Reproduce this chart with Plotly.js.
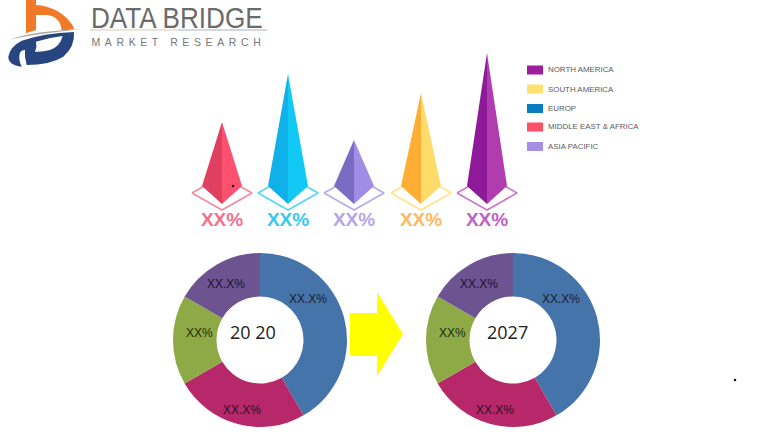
<!DOCTYPE html>
<html><head><meta charset="utf-8">
<script src="https://cdn.plot.ly/plotly-3.0.1.min.js"></script>
<style>html,body{margin:0;padding:0;background:#fff}#c{width:780px;height:440px}
.logoTitle{transform-box:fill-box;transform-origin:0 50%;transform:scaleX(.87)}
.logoSub{letter-spacing:4.6px}
</style>
</head><body><div id="c"></div>
<script>
const regions=['MIDDLE EAST & AFRICA','EUROP','ASIA PACIFIC','SOUTH AMERICA','NORTH AMERICA'];
const pyramidHeights=[82,130,64,111,151];
const pyramidLabels=['XX%','XX%','XX%','XX%','XX%'];
const leftFace=['#e0405f','#10b0e8','#7a6cc4','#ffae35','#8e1a9a'];
const rightFace=['#ff5070','#12c8f5','#a08ee6','#ffdc6a','#b03cb0'];
const labelColors=['#f4708a','#35c8f0','#b4a4ea','#ffb860','#c060c8'];
const diamondColors=['#f58a9e','#55d8f5','#b8a8ec','#ffe48a','#c878d0'];

const legendNames=['NORTH AMERICA','SOUTH AMERICA','EUROP','MIDDLE EAST & AFRICA','ASIA PACIFIC'];
const legendColors=['#9c1fa0','#ffe070','#0a7cc0','#ff5068','#a58ee6'];

const donutLabels=['Segment A','Segment B','Segment C','Segment D'];
const donut2020=[41.67,25,16.67,16.66];
const donut2027=[41.67,25,16.67,16.66];
const donutColors=['#4574ab','#b6286a','#8eaa47','#6e5391'];
const donutTexts=['XX.X%','XX.X%','XX%','XX.X%'];

const W=780,H=440,baseY=204;
const cx=[222,288,354,421,487];
const traces=[];
regions.forEach((r,i)=>{
  const c=cx[i],h=pyramidHeights[i];
  traces.push({type:'scatter',mode:'lines',x:[c-30,c,c+30,c,c-30],y:[11,28,11,-6,11],fill:'none',
    line:{color:diamondColors[i],width:1.6},hoverinfo:'skip',showlegend:false});
  traces.push({type:'scatter',mode:'lines',x:[c,c-20,c,c],y:[h,18,0,h],fill:'toself',fillcolor:leftFace[i],
    line:{width:0},name:r,hoverinfo:'skip',showlegend:false});
  traces.push({type:'scatter',mode:'lines',x:[c,c+20,c,c],y:[h,18,0,h],fill:'toself',fillcolor:rightFace[i],
    line:{width:0},hoverinfo:'skip',showlegend:false});
});
traces.push({type:'scatter',mode:'text',x:cx,y:cx.map(()=>-17),text:pyramidLabels,
  textfont:{family:'Liberation Sans',size:19,weight:700,color:labelColors},textposition:'middle center',hoverinfo:'skip',showlegend:false});
traces.push({type:'scatter',mode:'markers',x:[233,735],y:[18,-176],marker:{size:2.5,color:'#111'},hoverinfo:'skip',showlegend:false});

function donut(vals,cxp,cyp,r){
  return {type:'pie',values:vals,labels:donutLabels,sort:false,direction:'clockwise',rotation:0,hole:0.5,
    marker:{colors:donutColors,line:{width:0}},textinfo:'none',hoverinfo:'skip',showlegend:false,
    domain:{x:[(cxp-r)/W,(cxp+r)/W],y:[1-(cyp+r)/H,1-(cyp-r)/H]}};
}
traces.push(donut(donut2020,260,340,87));
traces.push(donut(donut2027,513,340,87));

const ann=[];
const t=(x,y,text,size,color,family,anchor)=>ann.push({xref:'paper',yref:'paper',x:x/W,y:1-y/H,text,showarrow:false,
  xanchor:anchor||'center',yanchor:'middle',font:{size,color,family:family||'Liberation Sans'},borderpad:0,borderwidth:0});
[0,253].forEach(dx=>{
  t(308+dx,299,donutTexts[0],12,'#1c1c30');
  t(242+dx,410,donutTexts[1],12,'#2a1025');
  t(199+dx,333,donutTexts[2],12,'#1c2a10');
  t(226+dx,284,donutTexts[3],12,'#1c1030');
});
t(253,332,'20 20',18,'#222','Open Sans');
t(507,332,'2027',18,'#222','Open Sans');
const legendY=[70,89,108.5,127,146.5];
legendNames.forEach((n,i)=>t(548,legendY[i],n,7.9,'#5a5a5a','Liberation Sans','left'));
const titleIdx=ann.length;
t(91,17.5,'DATA BRIDGE',30,'#6a6a6a','Liberation Sans','left');
const subIdx=ann.length;
t(125.5,42,'MARKET RESEARCH',10.5,'#777','Liberation Sans','left');

const shapes=[];
const rect=(x0,y0,x1,y1,c)=>shapes.push({type:'rect',xref:'paper',yref:'paper',x0:x0/W,x1:x1/W,y0:1-y0/H,y1:1-y1/H,fillcolor:c,line:{width:0},layer:'above'});
legendColors.forEach((c,i)=>{const y=legendY[i];rect(527,y-4.5,543,y+4.5,c);});
rect(90,29.5,178,30.5,'#dcc8b4');rect(178,29.5,267,30.5,'#a8b0c4');
const path=(d,c)=>shapes.push({type:'path',xref:'x',yref:'y',path:d,fillcolor:c,line:{width:0},layer:'above'});
const Y=y=>baseY-y;
const P=pts=>pts.map((p,i)=>(i?'L':'M')+p[0]+','+Y(p[1])).join(' ')+' Z';
// arrow
path(P([[350,313],[377,313],[377,292],[403,334],[377,376],[377,356],[350,356]]),'#ffff00');
// logo: path commands written at 3x logo coordinates
const L=s=>s.replace(/(-?[\d.]+),(-?[\d.]+)/g,(m,a,b)=>(a/3)+','+Y(b/3));
path(L('M78,0 L108,0 L108,15 Q170,20 205,60 Q220,75 222,88 L185,92 Q182,50 140,45 L108,45 L108,90 L78,100 Z'),'#f07a28');
path(L('M28,120 Q100,92 248,88 Q110,100 28,120 Z'),'#a8a8a8');
path(L('M25,170 Q30,140 65,122 Q130,100 222,96 Q225,140 190,170 Q150,195 80,195 L75,170 L75,150 Q55,150 58,178 Q60,192 65,200 Q25,195 25,170 Z'),'#27467f');
path(L('M108,125 Q150,112 188,108 Q180,140 150,150 Q125,157 105,155 Q112,140 108,125 Z'),'#ffffff');

Plotly.newPlot('c',traces,{width:W,height:H,margin:{l:0,r:0,t:0,b:0},paper_bgcolor:'#fff',plot_bgcolor:'#fff',showlegend:false,
  xaxis:{range:[0,W],visible:false,fixedrange:true},yaxis:{range:[baseY-H,baseY],visible:false,fixedrange:true},
  annotations:ann,shapes},{displayModeBar:false,staticPlot:true}).then(gd=>{
    const g=gd.querySelectorAll('.annotation');
    g.forEach(n=>{
      const idx=+n.getAttribute('data-index'),tx=n.querySelector('text');
      if(idx===titleIdx)tx.classList.add('logoTitle');
      if(idx===subIdx)tx.classList.add('logoSub');
    });
});
</script></body></html>
